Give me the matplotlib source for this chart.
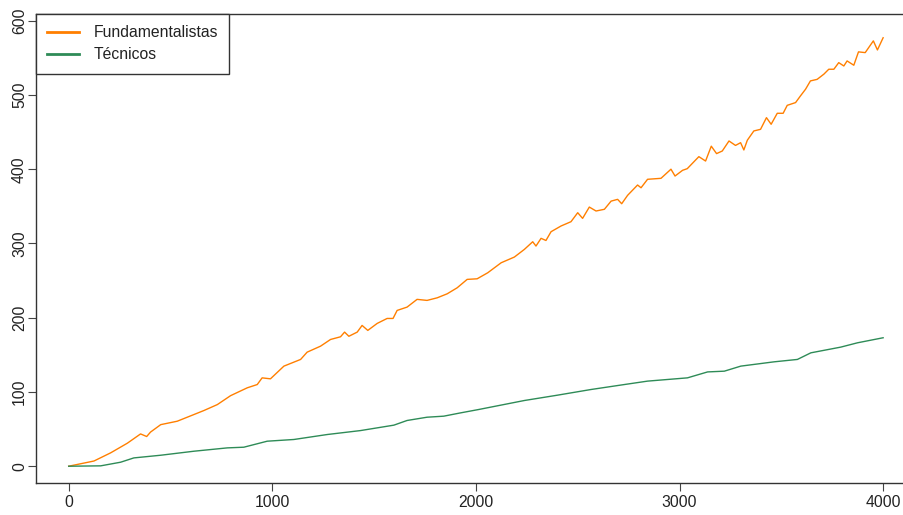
import matplotlib
matplotlib.use("Agg")
import matplotlib.pyplot as plt
from matplotlib.lines import Line2D

plt.rcParams['font.family'] = ['Liberation Sans', 'DejaVu Sans']

# datos (paso, valor acumulado)
pasos_fund = [0, 124, 206, 288, 353, 383, 402, 452, 533, 615, 664, 730, 795, 877, 926, 950,
              991, 1057, 1139, 1171, 1237, 1286, 1335, 1355, 1376, 1417, 1441, 1469, 1515,
              1564, 1593, 1613, 1662, 1711, 1760, 1810, 1859, 1908, 1957, 2006, 2058, 2124,
              2189, 2238, 2279, 2295, 2320, 2344, 2369, 2418, 2467, 2500, 2524, 2557, 2590,
              2631, 2664, 2696, 2716, 2745, 2794, 2811, 2843, 2909, 2958, 2978, 3015, 3038,
              3095, 3128, 3156, 3182, 3210, 3243, 3275, 3300, 3316, 3333, 3365, 3398, 3427,
              3450, 3480, 3509, 3529, 3570, 3594, 3619, 3643, 3676, 3709, 3733, 3758, 3782,
              3807, 3823, 3856, 3879, 3912, 3952, 3972, 4000]
valores_fund = [0, 7, 18, 31, 43.5, 40, 46, 56, 60.6, 69.6, 75, 83, 95, 105.6, 110, 119,
                117.7, 134.8, 143.8, 153.6, 161.7, 170.7, 174.3, 180.6, 175, 180.6, 189.6,
                182.9, 192.3, 199, 199, 209.8, 214.3, 224.7, 223.3, 226.8, 232.2, 240.3,
                251.6, 252.4, 260.5, 274, 281.7, 292, 302.3, 296.5, 306.9, 304, 315.8, 323.5,
                329.3, 341.4, 333.8, 349, 343.7, 346, 357, 359.4, 353.5, 364.8, 378.7, 375,
                386.4, 387.7, 400, 390.8, 398.5, 400.7, 416.9, 411, 431, 421, 424.5, 438, 432,
                435.7, 425.9, 439, 451.5, 453.7, 469.4, 460.5, 475.3, 475.3, 486, 489.7,
                498.7, 507.7, 518.9, 521, 528, 534.6, 534.6, 543.5, 539, 545.8, 540, 558, 557,
                572.8, 560.6, 577]

pasos_tec = [0, 157, 255, 320, 452, 615, 779, 860, 975, 1106, 1270, 1433, 1597, 1662, 1760,
             1842, 1924, 2014, 2238, 2401, 2565, 2729, 2843, 3039, 3138, 3220, 3301, 3465,
             3579, 3645, 3792, 3874, 4000]
valores_tec = [0, 0.5, 5.4, 11.2, 14.8, 20.2, 24.7, 25.6, 33.7, 36, 42.7, 48, 55.3, 61.6, 66,
               67.4, 71.8, 76.4, 88.5, 95.7, 103.3, 110, 114.6, 119, 127, 128, 134.8, 140.6,
               143.8, 152.7, 160.4, 166.2, 173]

etiquetas = ["Fundamentalistas", "Técnicos"]
colores = ["#FF7F00", "#2E8B57"]
xticks = [0, 1000, 2000, 3000, 4000]
yticks = [0, 100, 200, 300, 400, 500, 600]


def draw_chart():
    fig = plt.figure(figsize=(9.04, 5.15), dpi=100)
    # el marco derecho queda fuera de la imagen, como en el original
    ax = fig.add_axes([36 / 904, 31.7 / 515, 879.7 / 904, 469.3 / 515])

    ax.plot(pasos_fund, valores_fund, color=colores[0], lw=1.0)
    ax.plot(pasos_tec, valores_tec, color=colores[1], lw=1.0)

    ax.set_xlim(-160.6, 4160)
    ax.set_ylim(-23, 609)
    ax.set_xticks(xticks)
    ax.set_yticks(yticks)

    for s in ax.spines.values():
        s.set_color("#333333")
        s.set_linewidth(1)
    ax.spines["right"].set_visible(False)

    ax.tick_params(direction="out", length=6, width=0.8, color="#444444",
                   labelsize=11.3, labelcolor="#222222")
    ax.tick_params(axis="x", pad=2.5)
    ax.tick_params(axis="y", pad=0.5)
    for lab in ax.get_yticklabels():
        lab.set_rotation(90)
        lab.set_va("center")

    handles = [Line2D([], [], color=c, lw=2) for c in colores]
    leg = ax.legend(handles, etiquetas, loc="upper left", borderaxespad=0,
                    fontsize=11.3, fancybox=False, framealpha=1, edgecolor="#333333",
                    handlelength=2.05, handletextpad=0.9, borderpad=0.72,
                    labelspacing=0.45)
    leg.get_frame().set_linewidth(1)
    for t in leg.get_texts():
        t.set_color("#222222")

    fig.savefig("out.png", dpi=100)


if __name__ == "__main__":
    draw_chart()
